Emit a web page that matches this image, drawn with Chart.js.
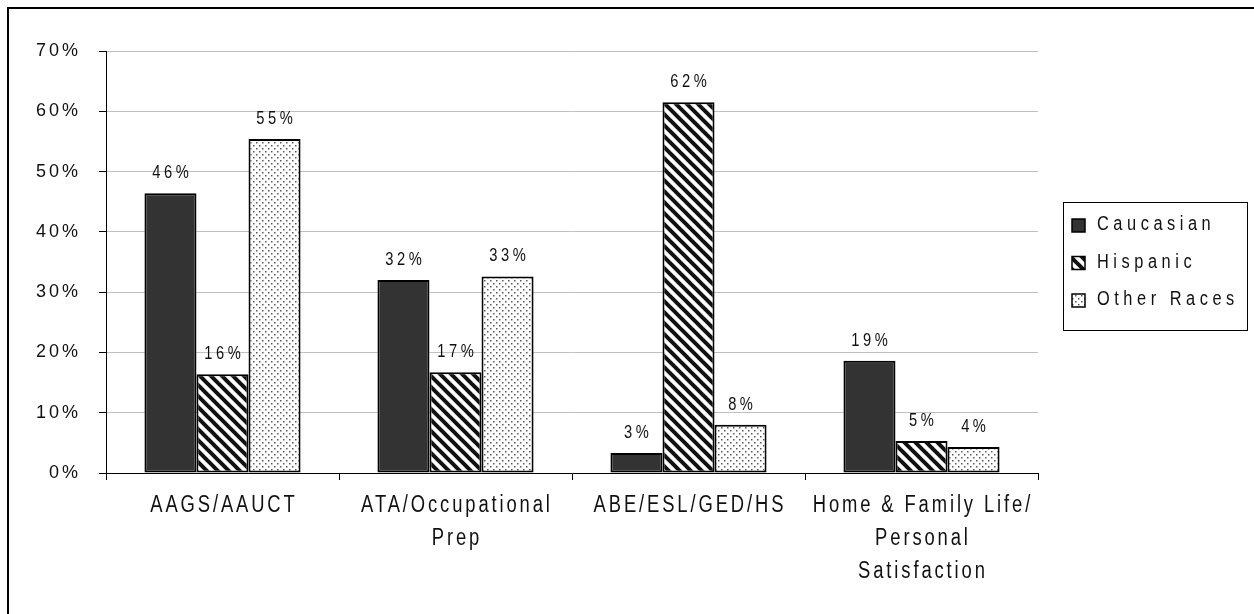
<!DOCTYPE html>
<html>
<head>
<meta charset="utf-8">
<script src="https://cdn.jsdelivr.net/npm/chart.js@4.4.1/dist/chart.umd.min.js"></script>
<style>
  html, body { margin: 0; padding: 0; background: #ffffff; }
  #wrap { position: relative; width: 1254px; height: 614px; }
</style>
</head>
<body>
<div id="wrap"><canvas id="chart" width="1254" height="614"></canvas></div>
<script>
// Program areas and share of enrolment per group
const categories = [
  ['AAGS/AAUCT'],
  ['ATA/Occupational', 'Prep'],
  ['ABE/ESL/GED/HS'],
  ['Home & Family Life/', 'Personal', 'Satisfaction']
];
const seriesNames = ['Caucasian', 'Hispanic', 'Other Races'];
const caucasian = [46.4, 32.0, 3.3, 18.6];
const hispanic = [16.4, 16.7, 61.5, 5.3];
const otherRaces = [55.4, 32.6, 8.0, 4.3];
const yTicks = [0, 10, 20, 30, 40, 50, 60, 70];

const FONT = "'Liberation Sans', Arial, sans-serif";
const TEXT = '#111111';

// Text style (horizontal squeeze + letter spacing) chosen by font size
function textStyle(font) {
  const m = /(\d+(?:\.\d+)?)px/.exec(font || '');
  const size = m ? parseFloat(m[1]) : 0;
  if (size >= 22.5) return { sx: 0.8, sp: 3.6 };   // category labels
  if (size >= 18.5) return { sx: 0.84, sp: 5.4 };  // legend
  if (size >= 17.9) return { sx: 1.0, sp: 3.0 };   // value axis
  return { sx: 0.84, sp: 4.2 };                    // bar value labels
}

// Draw and measure all canvas text with the squeezed, spaced lettering
function patchText(ctx) {
  if (ctx.__spaced) return;
  ctx.__spaced = true;
  const rawFill = ctx.fillText.bind(ctx);
  const rawMeasure = ctx.measureText.bind(ctx);
  ctx.fillText = function (t, x, y) {
    const st = textStyle(this.font);
    const trail = st.sp * st.sx;
    let dx = 0;
    if (this.textAlign === 'center') dx = trail / 2;
    else if (this.textAlign === 'right' || this.textAlign === 'end') dx = trail;
    this.save();
    this.letterSpacing = st.sp + 'px';
    this.translate(x + dx, y);
    this.scale(st.sx, 1);
    rawFill(t, 0, 0);
    this.restore();
  };
  ctx.measureText = function (t) {
    const st = textStyle(this.font);
    const prev = this.letterSpacing;
    this.letterSpacing = st.sp + 'px';
    const m = rawMeasure(t);
    this.letterSpacing = prev;
    return {
      width: Math.max(0, m.width - st.sp) * st.sx,
      actualBoundingBoxAscent: m.actualBoundingBoxAscent,
      actualBoundingBoxDescent: m.actualBoundingBoxDescent,
      actualBoundingBoxLeft: m.actualBoundingBoxLeft * st.sx,
      actualBoundingBoxRight: m.actualBoundingBoxRight * st.sx,
      fontBoundingBoxAscent: m.fontBoundingBoxAscent,
      fontBoundingBoxDescent: m.fontBoundingBoxDescent
    };
  };
}

// Fill patterns for the three groups
function hatchPattern() {
  const s = 11;
  const c = document.createElement('canvas');
  c.width = s; c.height = s;
  const g = c.getContext('2d');
  g.fillStyle = '#ffffff';
  g.fillRect(0, 0, s, s);
  g.strokeStyle = '#111111';
  g.lineWidth = 4;
  g.lineCap = 'square';
  for (const x0 of [-s, 0, s]) {
    g.beginPath();
    g.moveTo(x0, 0);
    g.lineTo(x0 + s, s);
    g.stroke();
  }
  return g.createPattern(c, 'repeat');
}
function dotPattern() {
  const s = 6;
  const c = document.createElement('canvas');
  c.width = s; c.height = s;
  const g = c.getContext('2d');
  g.fillStyle = '#ffffff';
  g.fillRect(0, 0, s, s);
  g.fillStyle = '#5a5a5a';
  g.fillRect(1, 1, 1.5, 1.5);
  g.fillRect(4, 4, 1.5, 1.5);
  return g.createPattern(c, 'repeat');
}

const fills = ['#333333', hatchPattern(), dotPattern()];

const textPlugin = {
  id: 'spacedText',
  beforeInit(chart) { patchText(chart.ctx); },
  beforeLayout(chart) { patchText(chart.ctx); }
};

// Outer frame around the whole figure
const framePlugin = {
  id: 'frame',
  beforeDraw(chart) {
    const ctx = chart.ctx;
    ctx.save();
    ctx.fillStyle = '#ffffff';
    ctx.fillRect(0, 0, chart.width, chart.height);
    ctx.strokeStyle = '#000000';
    ctx.lineWidth = 2;
    ctx.strokeRect(8, 8, chart.width + 40, chart.height + 40);
    ctx.restore();
  }
};

// Percentage labels above each bar
const valueLabelPlugin = {
  id: 'valueLabels',
  afterDatasetsDraw(chart) {
    const ctx = chart.ctx;
    ctx.save();
    ctx.font = '17.5px ' + FONT;
    ctx.fillStyle = TEXT;
    ctx.textAlign = 'center';
    ctx.textBaseline = 'middle';
    chart.data.datasets.forEach((ds, di) => {
      const meta = chart.getDatasetMeta(di);
      meta.data.forEach((bar, i) => {
        const txt = Math.round(ds.data[i]) + '%';
        ctx.fillText(txt, bar.x, bar.y - 20);
      });
    });
    ctx.restore();
  }
};

// Boxed legend at the right of the plot
const legendPlugin = {
  id: 'boxLegend',
  afterDraw(chart) {
    const ctx = chart.ctx;
    const left = 1063, top = 202, w = 184, h = 128;
    ctx.save();
    ctx.strokeStyle = '#000000';
    ctx.lineWidth = 1;
    ctx.strokeRect(left + 0.5, top + 0.5, w, h);
    ctx.font = '19.5px ' + FONT;
    ctx.textAlign = 'left';
    ctx.textBaseline = 'middle';
    chart.data.datasets.forEach((ds, i) => {
      const cy = top + 23 + i * 37.5;
      ctx.fillStyle = ds.backgroundColor;
      ctx.fillRect(left + 9, cy - 6, 13, 13);
      ctx.strokeStyle = '#000000';
      ctx.lineWidth = 1.5;
      ctx.strokeRect(left + 9, cy - 6, 13, 13);
      ctx.fillStyle = TEXT;
      ctx.fillText(ds.label, left + 34, cy);
    });
    ctx.restore();
  }
};

const datasets = [caucasian, hispanic, otherRaces].map((values, i) => ({
  label: seriesNames[i],
  data: values,
  backgroundColor: fills[i],
  borderColor: '#000000',
  borderWidth: 2,
  borderSkipped: false,
  barPercentage: 1.0,
  categoryPercentage: 0.67
}));

new Chart(document.getElementById('chart'), {
  type: 'bar',
  data: { labels: categories, datasets },
  plugins: [textPlugin, framePlugin, valueLabelPlugin, legendPlugin],
  options: {
    responsive: false,
    animation: false,
    events: [],
    layout: { padding: { left: 0, top: 51, right: 216, bottom: 0 } },
    plugins: {
      legend: { display: false },
      tooltip: { enabled: false }
    },
    scales: {
      x: {
        offset: true,
        grid: {
          offset: true,
          drawOnChartArea: false,
          drawTicks: true,
          tickLength: 7,
          tickColor: '#000000'
        },
        border: { color: '#000000', width: 1 },
        ticks: {
          color: TEXT,
          font: { family: FONT, size: 23, lineHeight: 1.435 },
          padding: 9,
          maxRotation: 0,
          autoSkip: false
        },
        afterFit(scale) { scale.height = 141; }
      },
      y: {
        min: 0,
        max: 70,
        afterBuildTicks(scale) { scale.ticks = yTicks.map(v => ({ value: v })); },
        grid: {
          color: '#c0c0c0',
          lineWidth: 1,
          tickLength: 7,
          tickColor: '#000000'
        },
        border: { color: '#000000', width: 1 },
        ticks: {
          color: TEXT,
          font: { family: FONT, size: 18 },
          padding: 21,
          callback: v => v + '%'
        },
        afterFit(scale) { scale.width = 106; }
      }
    }
  }
});
</script>
</body>
</html>
